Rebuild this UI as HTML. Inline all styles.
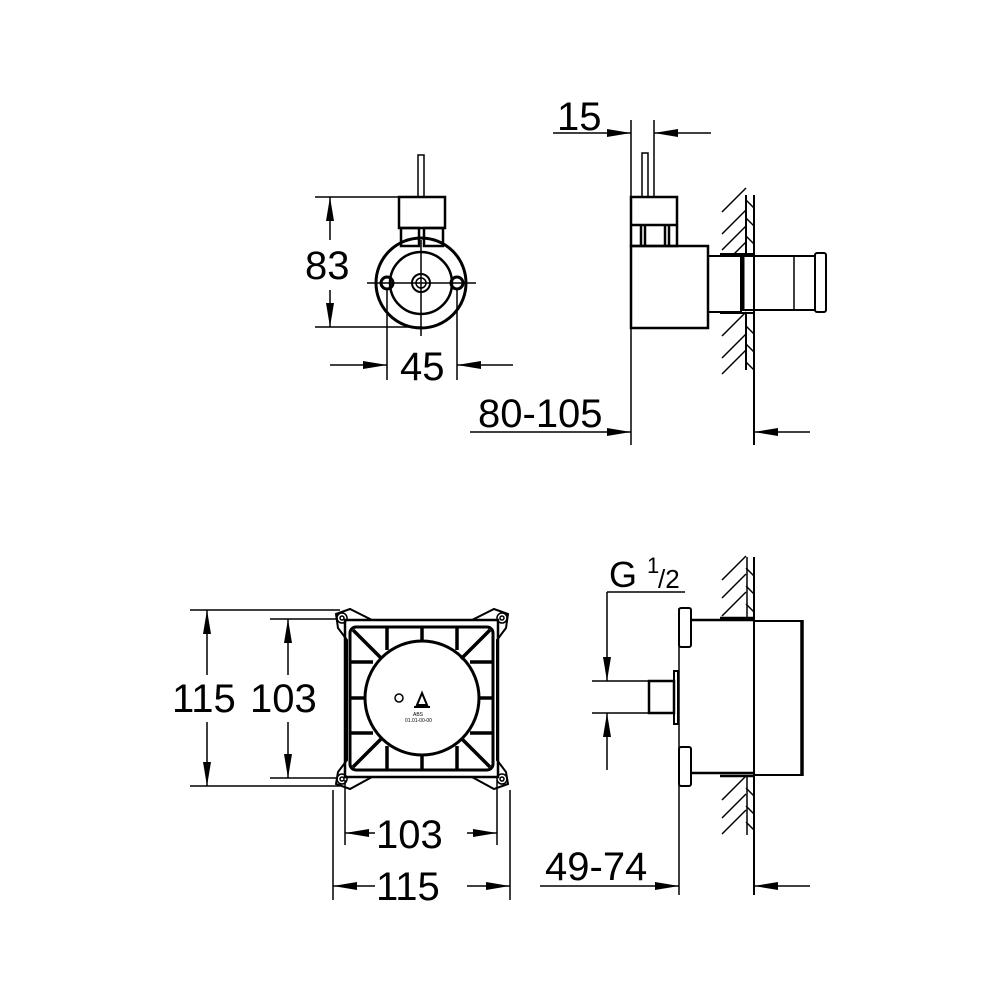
<!DOCTYPE html>
<html><head><style>body{margin:0;background:#fff}svg{display:block}text{font-family:"Liberation Sans",sans-serif;fill:#000}</style></head><body>
<svg width="1000" height="1000" viewBox="0 0 1000 1000" xmlns="http://www.w3.org/2000/svg">
<defs>
<marker id="a" viewBox="0 0 24 8" refX="24" refY="4" markerWidth="24" markerHeight="8" markerUnits="userSpaceOnUse" orient="auto"><path d="M0,0L24,4L0,8z" fill="#000"/></marker>
</defs>
<g stroke="#000" fill="none" stroke-width="1.5">
<!-- TOP LEFT -->
<rect x="418" y="155" width="6" height="42"/>
<rect x="399" y="197" width="46" height="31" stroke-width="2.5"/>
<rect x="401" y="228" width="18" height="18" stroke-width="2.5"/>
<rect x="424" y="228" width="19" height="18" stroke-width="2.5"/>
<circle cx="421" cy="283" r="45" stroke-width="3"/>
<circle cx="421" cy="283" r="31" stroke-width="2.5"/>
<circle cx="421" cy="283" r="9" stroke-width="2"/>
<circle cx="421" cy="283" r="5" stroke-width="1.5"/>
<circle cx="387" cy="283" r="6" stroke-width="3"/>
<circle cx="457" cy="283" r="6" stroke-width="3"/>
<line x1="367" y1="283" x2="476" y2="283"/>
<line x1="421" y1="240" x2="421" y2="336"/>
<line x1="315" y1="197" x2="400" y2="197"/>
<line x1="315" y1="327" x2="421" y2="327"/>
<line x1="330" y1="240" x2="330" y2="197" marker-end="url(#a)"/>
<line x1="330" y1="290" x2="330" y2="327" marker-end="url(#a)"/>
<line x1="387" y1="290" x2="387" y2="380"/>
<line x1="457" y1="290" x2="457" y2="380"/>
<line x1="330" y1="365" x2="387" y2="365" marker-end="url(#a)"/>
<line x1="513" y1="365" x2="457" y2="365" marker-end="url(#a)"/>
<!-- TOP RIGHT -->
<line x1="631" y1="120" x2="631" y2="445"/>
<line x1="654" y1="120" x2="654" y2="197"/>
<rect x="642" y="153" width="6" height="44"/>
<rect x="631" y="197" width="46" height="49" stroke-width="2.5"/>
<line x1="631" y1="225" x2="677" y2="225" stroke-width="2.5"/>
<line x1="641" y1="225" x2="641" y2="246" stroke-width="2.5"/>
<line x1="665" y1="225" x2="665" y2="246" stroke-width="2.5"/>
<line x1="645" y1="225" x2="645" y2="246" stroke-width="2.5"/>
<line x1="669" y1="225" x2="669" y2="246" stroke-width="2.5"/>
<rect x="631" y="246" width="77" height="82" stroke-width="2.5"/>
<rect x="708" y="256" width="33" height="56" stroke-width="2"/>
<rect x="741" y="256" width="74" height="54" stroke-width="2"/>
<line x1="743" y1="256" x2="743" y2="310" stroke-width="3"/>
<line x1="794" y1="256" x2="794" y2="310"/>
<rect x="815" y="253" width="11" height="59" rx="2" stroke-width="2"/>
<line x1="754" y1="195" x2="754" y2="445" stroke-width="2"/>
<line x1="746" y1="195" x2="746" y2="254" stroke-width="2"/>
<line x1="746" y1="314" x2="746" y2="370" stroke-width="2"/>
<line x1="720" y1="254" x2="754" y2="254" stroke-width="2"/>
<line x1="720" y1="313" x2="754" y2="313" stroke-width="2"/>
<path d="M722,212L746,188M722,234L746,210M722,250L746,226M734,254L746,242M746,200L754,208M746,218L754,226M746,236L754,244M722,336L746,312M722,358L746,334M722,374L746,350M746,326L754,334M746,344L754,352M746,362L754,370"/>
<line x1="470" y1="432" x2="631" y2="432" marker-end="url(#a)"/>
<line x1="810" y1="432" x2="754" y2="432" marker-end="url(#a)"/>
<line x1="553" y1="133" x2="631" y2="133" marker-end="url(#a)"/>
<line x1="711" y1="133" x2="654" y2="133" marker-end="url(#a)"/>
<!-- BOTTOM LEFT -->
<path d="M336,614L350,609L372,620L472,620L494,609L508,614L506,628L497,640L497,760L506,772L508,784L494,789L472,777L372,777L350,789L336,784L338,772L347,760L347,640L338,628z" stroke-width="2"/>
<rect x="345" y="620" width="153" height="157" stroke-width="2.5"/>
<rect x="350" y="627" width="143" height="143" rx="6" stroke-width="3"/>
<circle cx="342" cy="618" r="5"/><circle cx="342" cy="618" r="2"/>
<circle cx="502" cy="618" r="5"/><circle cx="502" cy="618" r="2"/>
<circle cx="342" cy="779" r="5"/><circle cx="342" cy="779" r="2"/>
<circle cx="502" cy="779" r="5"/><circle cx="502" cy="779" r="2"/>
<g stroke-width="3.5">
<line x1="387" y1="627" x2="387" y2="650"/><line x1="422" y1="627" x2="422" y2="641"/><line x1="457" y1="627" x2="457" y2="650"/>
<line x1="387" y1="770" x2="387" y2="746"/><line x1="422" y1="770" x2="422" y2="755"/><line x1="457" y1="770" x2="457" y2="746"/>
<line x1="350" y1="662" x2="373" y2="662"/><line x1="350" y1="698" x2="365" y2="698"/><line x1="350" y1="733" x2="373" y2="733"/>
<line x1="493" y1="662" x2="470" y2="662"/><line x1="493" y1="698" x2="479" y2="698"/><line x1="493" y1="733" x2="470" y2="733"/>
<line x1="353" y1="630" x2="382" y2="659"/><line x1="490" y1="630" x2="461" y2="659"/>
<line x1="353" y1="767" x2="382" y2="738"/><line x1="490" y1="767" x2="461" y2="738"/>
</g>
<circle cx="422" cy="698" r="57" stroke-width="3"/>
<circle cx="399" cy="698" r="4"/>
<path d="M417,705L422,693L427,705z M414,707L430,707" stroke-width="2"/>
<line x1="190" y1="610" x2="340" y2="610"/>
<line x1="190" y1="786" x2="340" y2="786"/>
<line x1="270" y1="619" x2="338" y2="619"/>
<line x1="270" y1="778" x2="338" y2="778"/>
<line x1="207" y1="675" x2="207" y2="610" marker-end="url(#a)"/>
<line x1="207" y1="722" x2="207" y2="786" marker-end="url(#a)"/>
<line x1="288" y1="675" x2="288" y2="619" marker-end="url(#a)"/>
<line x1="288" y1="722" x2="288" y2="778" marker-end="url(#a)"/>
<line x1="345" y1="780" x2="345" y2="845"/>
<line x1="497" y1="780" x2="497" y2="845"/>
<line x1="333" y1="790" x2="333" y2="900"/>
<line x1="510" y1="790" x2="510" y2="900"/>
<line x1="375" y1="833" x2="345" y2="833" marker-end="url(#a)"/>
<line x1="467" y1="833" x2="497" y2="833" marker-end="url(#a)"/>
<line x1="375" y1="886" x2="333" y2="886" marker-end="url(#a)"/>
<line x1="467" y1="886" x2="510" y2="886" marker-end="url(#a)"/>
<!-- BOTTOM RIGHT -->
<line x1="679" y1="608" x2="679" y2="895"/>
<rect x="679" y="608" width="12" height="39" rx="2" stroke-width="2"/>
<rect x="679" y="747" width="12" height="39" rx="2" stroke-width="2"/>
<line x1="691" y1="620" x2="754" y2="620" stroke-width="2.5"/>
<line x1="691" y1="773" x2="754" y2="773" stroke-width="2.5"/>
<rect x="754" y="621" width="48" height="154" stroke-width="2"/>
<line x1="802" y1="620" x2="802" y2="776" stroke-width="3.5"/>
<rect x="649" y="681" width="25" height="32" stroke-width="2.5"/>
<rect x="674" y="671" width="4" height="53" stroke-width="2"/>
<line x1="754" y1="557" x2="754" y2="895" stroke-width="2"/>
<line x1="747" y1="557" x2="747" y2="620" stroke-width="1.5"/>
<line x1="747" y1="775" x2="747" y2="835" stroke-width="1.5"/>
<line x1="720" y1="618" x2="754" y2="618" stroke-width="2.5"/>
<line x1="720" y1="776" x2="754" y2="776" stroke-width="2.5"/>
<path d="M722,580L746,556M722,598L746,574M722,616L746,592M746,568L754,576M746,586L754,594M746,604L754,612M722,800L746,776M722,818L746,794M722,834L746,810M746,788L754,796M746,806L754,814M746,822L754,830"/>
<line x1="607" y1="592" x2="685" y2="592"/>
<line x1="607" y1="592" x2="607" y2="681" marker-end="url(#a)"/>
<line x1="607" y1="770" x2="607" y2="713" marker-end="url(#a)"/>
<line x1="592" y1="681" x2="650" y2="681"/>
<line x1="592" y1="713" x2="650" y2="713"/>
<line x1="540" y1="886" x2="679" y2="886" marker-end="url(#a)"/>
<line x1="810" y1="886" x2="754" y2="886" marker-end="url(#a)"/>
</g>
<g font-size="40">
<text x="305" y="279">83</text>
<text x="400" y="380">45</text>
<text x="557" y="130">15</text>
<text x="478" y="427">80-105</text>
<text x="172" y="712">115</text>
<text x="250" y="712">103</text>
<text x="376" y="848">103</text>
<text x="376" y="900">115</text>
<text x="545" y="880">49-74</text>
<text x="609" y="587" font-size="36">G</text>
<text x="647" y="573" font-size="22">1</text>
<text x="658" y="588" font-size="26">/2</text>
</g>
<text x="413" y="716" font-size="5">ABS</text>
<text x="405" y="722" font-size="5">01.01-00-00</text>
</svg>
</body></html>
